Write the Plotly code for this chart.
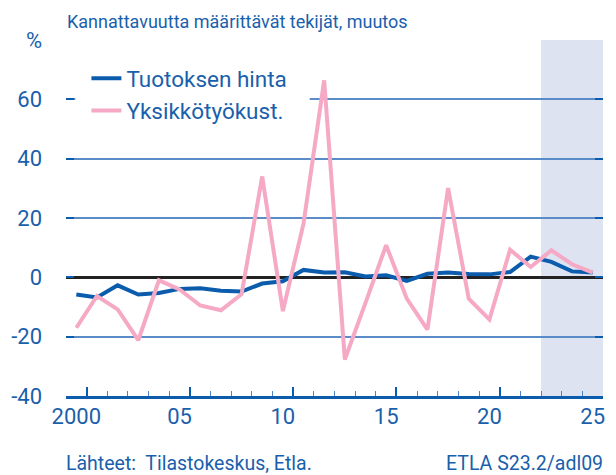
import plotly.graph_objects as go

years = list(range(2000, 2026))
tuotoksen_hinta = [-5.8, -6.8, -2.7, -5.8, -5.3, -3.9, -3.7, -4.5, -4.8, -2.1,
                   -1.3, 2.5, 1.6, 1.7, 0.3, 0.7, -1.2, 1.2, 1.6, 1.1,
                   1.0, 1.8, 7.0, 5.2, 2.0, 1.6]
yksikkotyokust = [-17.0, -6.3, -10.8, -21.2, -1.0, -4.1, -9.5, -11.1, -5.7, 34.0,
                  -11.4, 18.1, 66.4, -27.7, -8.6, 10.8, -7.2, -17.6, 30.1, -7.2,
                  -14.2, 9.3, 3.5, 9.1, 4.4, 1.6]
forecast_start, forecast_end = 2022.5, 2025.5
x_ticks = [2000, 2005, 2010, 2015, 2020, 2025]
x_ticktext = ["2000", "05", "10", "15", "20", "25"]
y_ticks = [-40, -20, 0, 20, 40, 60, 80]
y_ticktext = ["-40", "-20", "0", "20", "40", "60", "%"]

BLUE = "#0b5cad"
TXT = "#1a5fab"
PINK = "#f5a9c5"
GRID = "#5a8cc8"
FONT = "Roboto, 'Open Sans', sans-serif"

fig = go.Figure()
fig.add_trace(go.Scatter(x=years, y=tuotoksen_hinta, mode="lines", name="Tuotoksen hinta",
                         line=dict(color=BLUE, width=4)))
fig.add_trace(go.Scatter(x=years, y=yksikkotyokust, mode="lines", name="Yksikkötyökust.",
                         line=dict(color=PINK, width=4)))
fig.add_trace(go.Scatter(x=[], y=[], xaxis="x2", showlegend=False, hoverinfo="skip"))

# forecast shading
fig.add_shape(type="rect", xref="x", yref="paper", x0=forecast_start, x1=forecast_end,
              y0=0, y1=1, fillcolor="#dde3f1", line=dict(width=0), layer="below")
# white backdrop of the legend (hides the 60 gridline behind the legend)
fig.add_shape(type="rect", xref="x", yref="y", x0=1999.95, x1=2011.3, y0=50, y1=72,
              fillcolor="white", line=dict(width=0), layer="above")

fig.update_layout(
    width=608, height=467,
    margin=dict(l=58, r=13, t=32, b=79, autoexpand=False),
    paper_bgcolor="white", plot_bgcolor="white",
    font=dict(family=FONT, color=TXT, size=21),
    showlegend=True,
    legend=dict(x=0.038, y=0.952, xanchor="left", yanchor="top", bgcolor="rgba(0,0,0,0)",
                font=dict(size=22.5, color=TXT), itemwidth=30,
                tracegroupgap=0, borderwidth=0),
    xaxis=dict(range=[1999.5, 2025.5], tickvals=x_ticks, ticktext=x_ticktext,
               ticks="", showgrid=False, zeroline=False, showline=True, automargin=False,
               linecolor=BLUE, linewidth=2.5, ticklabelstandoff=-1,
               tickfont=dict(size=22, color=TXT)),
    xaxis2=dict(range=[1999.5, 2025.5], overlaying="x", anchor="y", side="bottom",
                tickmode="linear", tick0=2000.5, dtick=5, ticks="inside", ticklen=9,
                tickwidth=1.5, tickcolor=BLUE, showticklabels=False, showgrid=False,
                zeroline=False, showline=False, automargin=False,
                minor=dict(dtick=1, tick0=2000.5, ticks="inside", ticklen=5,
                           tickwidth=1.2, tickcolor="#4f84c2")),
    yaxis=dict(range=[-40, 80], tickvals=y_ticks, ticktext=y_ticktext,
               ticks="inside", ticklen=8, tickwidth=2, tickcolor=BLUE,
               mirror="ticks", showline=False, automargin=False,
               showgrid=True, gridcolor=GRID, gridwidth=1.5,
               zeroline=True, zerolinecolor="#222222", zerolinewidth=2.5,
               ticklabelstandoff=23, tickfont=dict(size=22, color=TXT)),
)

fig.add_annotation(text="Kannattavuutta määrittävät tekijät, muutos", xref="paper", yref="paper",
                   x=0, y=1, xanchor="left", yanchor="bottom", yshift=6, xshift=-1,
                   showarrow=False, font=dict(family=FONT, size=18, color=TXT))
fig.add_annotation(text="Lähteet:  Tilastokeskus, Etla.", xref="paper", yref="paper",
                   x=0, y=0, xanchor="left", yanchor="middle", yshift=-67, xshift=-2,
                   showarrow=False, font=dict(family=FONT, size=19.5, color=TXT))
fig.add_annotation(text="ETLA S23.2/adl09", xref="paper", yref="paper",
                   x=1, y=0, xanchor="right", yanchor="middle", yshift=-67, xshift=2,
                   showarrow=False, font=dict(family=FONT, size=19.5, color=TXT))

fig.write_html("out.html")
